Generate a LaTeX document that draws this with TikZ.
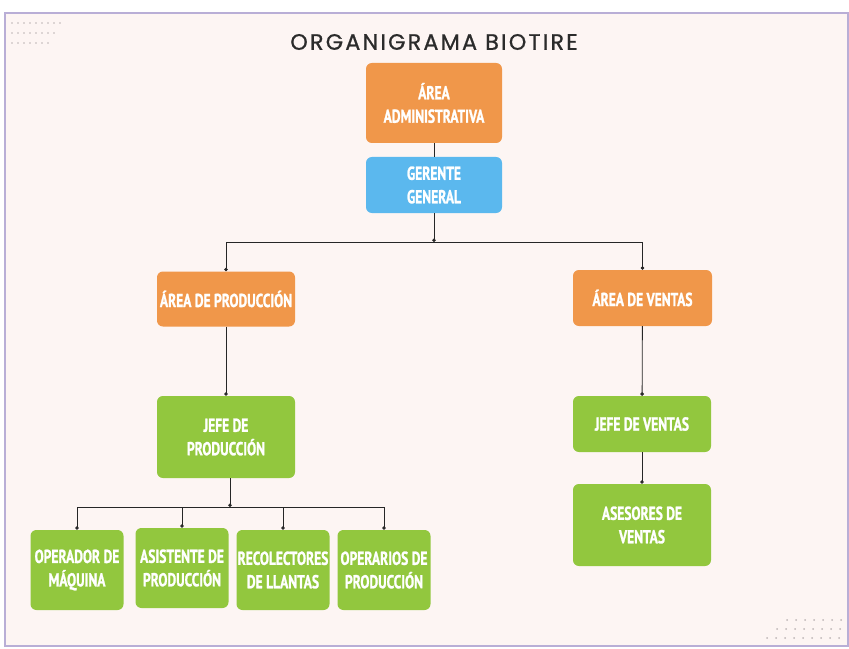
\documentclass[tikz,border=0pt]{standalone}
\usepackage{fontspec}
\usetikzlibrary{arrows.meta}
\newfontfamily\boxfont{PT Sans}[FakeStretch=0.72, FakeBold=1.2]
\newfontfamily\titlefont{Poppins}[LetterSpace=10, FakeBold=0.8]
\definecolor{bgpink}{RGB}{253,245,243}
\definecolor{framelila}{RGB}{185,174,214}
\definecolor{orgorange}{RGB}{240,151,74}
\definecolor{orgblue}{RGB}{91,184,238}
\definecolor{orggreen}{RGB}{146,199,62}
\definecolor{titlegray}{RGB}{43,43,43}
\definecolor{dotgray}{RGB}{190,182,182}

\begin{document}
\begin{tikzpicture}[x=0.3mm, y=-0.3mm,
    orgbox/.style={rounded corners=5pt, text=white, align=center,
        font=\boxfont\bfseries\fontsize{16}{20}\selectfont, inner sep=0pt},
    boxsize/.style 2 args={minimum width=#1*0.3mm, minimum height=#2*0.3mm},
    link/.style={draw=black!85, line width=0.7pt},
    dotlink/.style={link, -{Circle[length=3pt]}}]
    \useasboundingbox (0,0) rectangle (849,649);
    % page
    \fill[white] (0,0) rectangle (849,649);
    \fill[bgpink] (5,13) rectangle (848,646);
    \draw[framelila, line width=1.2pt] (5,13) rectangle (848,646);
    % dot patterns
    \foreach \i in {0,...,8} \fill[dotgray] (12+6*\i,23) circle (0.9);
    \foreach \i in {0,...,7} \fill[dotgray] (12+6*\i,33) circle (0.9);
    \foreach \i in {0,...,6} \fill[dotgray] (12+6*\i,43) circle (0.9);
    \foreach \i in {0,...,6} \fill[dotgray] (787+9*\i,620) circle (1);
    \foreach \i in {0,...,7} \fill[dotgray] (777+9*\i,629) circle (1);
    \foreach \i in {0,...,8} \fill[dotgray] (767+9*\i,638) circle (1);

    \node[font=\titlefont\fontsize{19}{23}\selectfont, text=titlegray] (title) at (434,42) {ORGANIGRAMA BIOTIRE};

    % boxes
    \node[orgbox, fill=orgorange, boxsize={136}{80}] (adm) at (434,103) {ÁREA\\ADMINISTRATIVA};
    \node[orgbox, fill=orgblue, boxsize={136}{56}] (ger) at (434,185) {GERENTE\\GENERAL};
    \coordinate (bus) at (434,242);
    \node[orgbox, fill=orgorange, boxsize={138}{55}] (aprod) at (226,299) {ÁREA DE PRODUCCIÓN};
    \node[orgbox, fill=orgorange, boxsize={139}{56}] (avent) at (642.5,298) {ÁREA DE VENTAS};
    \node[orgbox, fill=orggreen, boxsize={138}{82}] (jprod) at (226,437) {JEFE DE\\PRODUCCIÓN};
    \node[orgbox, fill=orggreen, boxsize={138}{56}] (jvent) at (642,424) {JEFE DE VENTAS};
    \node[orgbox, fill=orggreen, boxsize={138}{82}] (asev) at (642,525) {ASESORES DE\\VENTAS};
    \coordinate (bus2) at (230,507);
    \node[orgbox, fill=orggreen, boxsize={93}{80}] (op) at (77,570) {OPERADOR DE\\MÁQUINA};
    \node[orgbox, fill=orggreen, boxsize={93}{80}] (asis) at (182,568) {ASISTENTE DE\\PRODUCCIÓN};
    \node[orgbox, fill=orggreen, boxsize={93}{80}] (rec) at (283,570) {RECOLECTORES\\DE LLANTAS};
    \node[orgbox, fill=orggreen, boxsize={93}{80}] (opr) at (384,570) {OPERARIOS DE\\PRODUCCIÓN};

    % connectors
    \draw[link] (adm) -- (ger);
    \draw[dotlink] (ger) -- (bus);
    \draw[link] (aprod |- bus) -- (avent |- bus);
    \draw[dotlink] (aprod |- bus) -- (aprod);
    \draw[dotlink] (avent |- bus) -- (avent);
    \draw[dotlink] (aprod) -- (jprod);
    \draw[dotlink] (avent) -- (jvent);
    \draw[dotlink] (jvent) -- (asev);
    \draw[dotlink] (jprod.south -| bus2) -- (bus2);
    \draw[link] (op |- bus2) -- (opr |- bus2);
    \foreach \n in {op,asis,rec,opr}
        \draw[dotlink] (\n |- bus2) -- (\n);
\end{tikzpicture}
\end{document}
